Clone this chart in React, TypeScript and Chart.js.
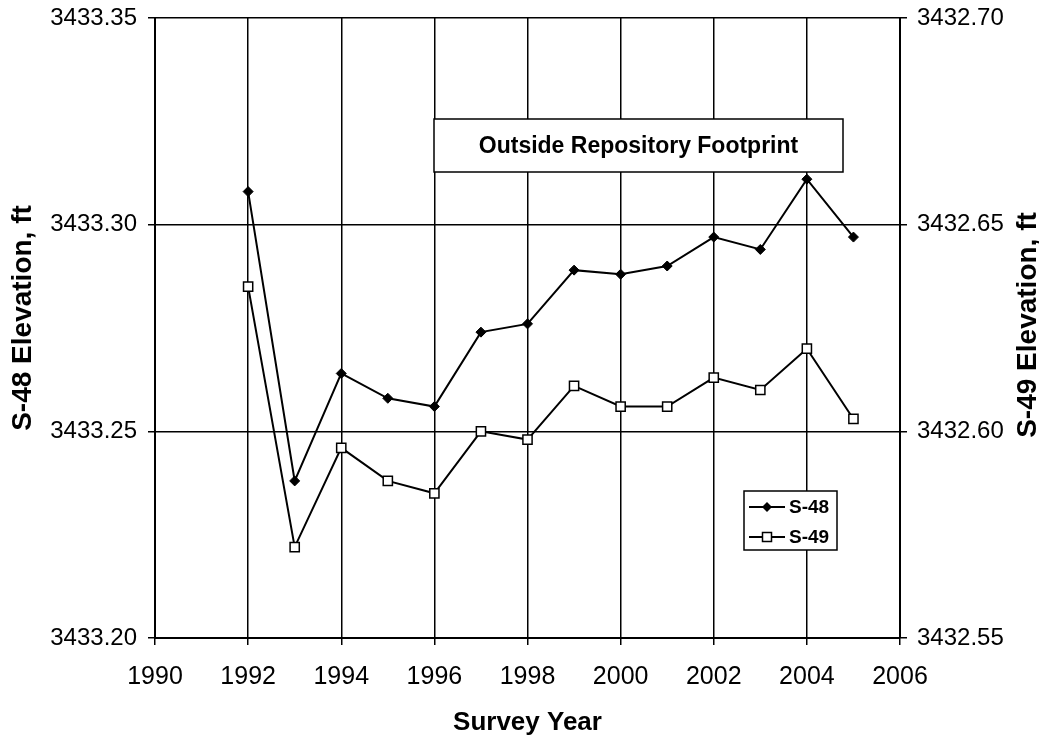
import React, { useEffect, useRef } from "react";
import { Chart, registerables } from "chart.js";

Chart.register(...registerables);

// Survey years and benchmark elevations (ft)
const YEARS = [1992, 1993, 1994, 1995, 1996, 1997, 1998, 1999, 2000, 2001, 2002, 2003, 2004, 2005];
const S48 = [3433.308, 3433.238, 3433.264, 3433.258, 3433.256, 3433.274, 3433.276, 3433.289, 3433.288, 3433.29, 3433.297, 3433.294, 3433.311, 3433.297];
const S49 = [3432.635, 3432.572, 3432.596, 3432.588, 3432.585, 3432.6, 3432.598, 3432.611, 3432.606, 3432.606, 3432.613, 3432.61, 3432.62, 3432.603];

// Axis ticks
const YEAR_TICKS = [1990, 1992, 1994, 1996, 1998, 2000, 2002, 2004, 2006];
const S48_TICKS = [3433.2, 3433.25, 3433.3, 3433.35];
const S49_TICKS = [3432.55, 3432.6, 3432.65, 3432.7];

const NOTE = "Outside Repository Footprint";
const SERIES_NAMES = ["S-48", "S-49"];
const TITLE_X = "Survey Year";
const TITLE_Y_LEFT = "S-48 Elevation, ft";
const TITLE_Y_RIGHT = "S-49 Elevation, ft";

const FONT = '"Liberation Sans", Arial, Helvetica, sans-serif';

function diamond(ctx: CanvasRenderingContext2D, x: number, y: number, r: number) {
  ctx.beginPath();
  ctx.moveTo(x - r, y);
  ctx.lineTo(x, y - r);
  ctx.lineTo(x + r, y);
  ctx.lineTo(x, y + r);
  ctx.closePath();
  ctx.fillStyle = "#000";
  ctx.fill();
}

function square(ctx: CanvasRenderingContext2D, x: number, y: number, h: number) {
  ctx.fillStyle = "#fff";
  ctx.fillRect(x - h, y - h, 2 * h, 2 * h);
  ctx.lineWidth = 1.5;
  ctx.strokeStyle = "#000";
  ctx.strokeRect(x - h, y - h, 2 * h, 2 * h);
}

const overlay = {
  id: "overlay",
  beforeDatasetsDraw(chart: any) {
    const { ctx, chartArea } = chart;
    const L = chartArea.left;
    const T = chartArea.top;
    ctx.save();

    // note box
    const bx0 = L + 279, bx1 = L + 688, by0 = T + 101, by1 = T + 154;
    ctx.fillStyle = "#fff";
    ctx.fillRect(bx0, by0, bx1 - bx0, by1 - by0);
    ctx.lineWidth = 1.5;
    ctx.strokeStyle = "#000";
    ctx.strokeRect(bx0, by0, bx1 - bx0, by1 - by0);
    ctx.fillStyle = "#000";
    ctx.font = `bold 23px ${FONT}`;
    ctx.textAlign = "center";
    ctx.textBaseline = "middle";
    ctx.fillText(NOTE, (bx0 + bx1) / 2, (by0 + by1) / 2 + 1);

    // legend
    const lx0 = L + 589, lx1 = L + 682, ly0 = T + 473, ly1 = T + 532;
    ctx.fillStyle = "#fff";
    ctx.fillRect(lx0, ly0, lx1 - lx0, ly1 - ly0);
    ctx.lineWidth = 1.5;
    ctx.strokeStyle = "#000";
    ctx.strokeRect(lx0, ly0, lx1 - lx0, ly1 - ly0);
    const rows = [ly0 + 16, ly0 + 46];
    rows.forEach((ry, i) => {
      ctx.beginPath();
      ctx.lineWidth = 2;
      ctx.strokeStyle = "#000";
      ctx.moveTo(lx0 + 5, ry);
      ctx.lineTo(lx0 + 41, ry);
      ctx.stroke();
      if (i === 0) diamond(ctx, lx0 + 23, ry, 5);
      else square(ctx, lx0 + 23, ry, 4.5);
      ctx.fillStyle = "#000";
      ctx.font = `bold 19px ${FONT}`;
      ctx.textAlign = "left";
      ctx.textBaseline = "middle";
      ctx.fillText(SERIES_NAMES[i], lx0 + 45, ry + 1);
    });
    ctx.restore();
  },
  afterDraw(chart: any) {
    const { ctx, chartArea } = chart;
    const midY = (chartArea.top + chartArea.bottom) / 2;
    ctx.save();
    ctx.fillStyle = "#000";
    ctx.font = `bold 28px ${FONT}`;
    ctx.textAlign = "center";
    ctx.textBaseline = "middle";
    // left axis title
    ctx.save();
    ctx.translate(chartArea.left - 132, midY - 10);
    ctx.rotate(-Math.PI / 2);
    ctx.fillText(TITLE_Y_LEFT, 0, 0);
    ctx.restore();
    // right axis title
    ctx.save();
    ctx.translate(chartArea.right + 128, midY - 3);
    ctx.rotate(-Math.PI / 2);
    ctx.fillText(TITLE_Y_RIGHT, 0, 0);
    ctx.restore();
    ctx.restore();
  },
};

// Fix a vertical axis to a given width without label overflow padding
const fixVertical = (width: number) => (s: any) => {
  s.width = width;
  s.paddingTop = 0;
  s.paddingBottom = 0;
};

export default function App() {
  const ref = useRef<HTMLCanvasElement | null>(null);

  useEffect(() => {
    if (!ref.current) return;
    const chart = new Chart(ref.current, {
      type: "line",
      data: {
        datasets: [
          {
            label: SERIES_NAMES[0],
            data: YEARS.map((x, i) => ({ x, y: S48[i] })),
            yAxisID: "y",
            borderColor: "#000",
            borderWidth: 2,
            pointStyle: "rectRot",
            pointRadius: 5,
            pointBackgroundColor: "#000",
            pointBorderColor: "#000",
            pointBorderWidth: 1,
            tension: 0,
          },
          {
            label: SERIES_NAMES[1],
            data: YEARS.map((x, i) => ({ x, y: S49[i] })),
            yAxisID: "y1",
            borderColor: "#000",
            borderWidth: 2,
            pointStyle: "rect",
            pointRadius: 6.5,
            pointBackgroundColor: "#fff",
            pointBorderColor: "#000",
            pointBorderWidth: 1.5,
            tension: 0,
          },
        ],
      },
      options: {
        responsive: false,
        animation: false,
        layout: { padding: { top: 18, left: 0, right: 0, bottom: 0 } },
        plugins: {
          legend: { display: false },
          tooltip: { enabled: false },
        },
        scales: {
          x: {
            type: "linear",
            min: 1990,
            max: 2006,
            afterBuildTicks: (s: any) => {
              s.ticks = YEAR_TICKS.map((v) => ({ value: v }));
            },
            afterFit: (s: any) => {
              s.height = 100;
              s.paddingLeft = 0;
              s.paddingRight = 0;
            },
            grid: { color: "#000", lineWidth: 1.5, tickLength: 7, tickColor: "#000" },
            border: { color: "#000", width: 2 },
            ticks: {
              color: "#000",
              font: { family: FONT, size: 25 },
              padding: 17,
              maxRotation: 0,
              callback: (v: any) => String(v),
            },
            title: {
              display: true,
              text: TITLE_X,
              color: "#000",
              font: { family: FONT, size: 26, weight: "bold" },
              padding: { top: 5, bottom: 0 },
            },
          },
          y: {
            type: "linear",
            position: "left",
            min: 3433.2,
            max: 3433.35,
            afterBuildTicks: (s: any) => {
              s.ticks = S48_TICKS.map((v) => ({ value: v }));
            },
            afterFit: fixVertical(155),
            grid: { color: "#000", lineWidth: 1.5, tickLength: 7, tickColor: "#000" },
            border: { color: "#000", width: 2 },
            ticks: {
              color: "#000",
              font: { family: FONT, size: 24 },
              padding: 11,
              callback: (v: any) => Number(v).toFixed(2),
            },
          },
          y1: {
            type: "linear",
            position: "right",
            min: 3432.55,
            max: 3432.7,
            afterBuildTicks: (s: any) => {
              s.ticks = S49_TICKS.map((v) => ({ value: v }));
            },
            afterFit: fixVertical(139),
            grid: { drawOnChartArea: false, color: "#000", lineWidth: 1.5, tickLength: 7, tickColor: "#000" },
            border: { color: "#000", width: 2 },
            ticks: {
              color: "#000",
              font: { family: FONT, size: 24 },
              padding: 10,
              callback: (v: any) => Number(v).toFixed(2),
            },
          },
        },
      },
      plugins: [overlay],
    } as any);
    return () => chart.destroy();
  }, []);

  return (
    <div style={{ position: "absolute", left: 0, top: 0, width: 1039, height: 738, background: "#fff" }}>
      <canvas ref={ref} width={1039} height={738} style={{ display: "block" }} />
    </div>
  );
}
